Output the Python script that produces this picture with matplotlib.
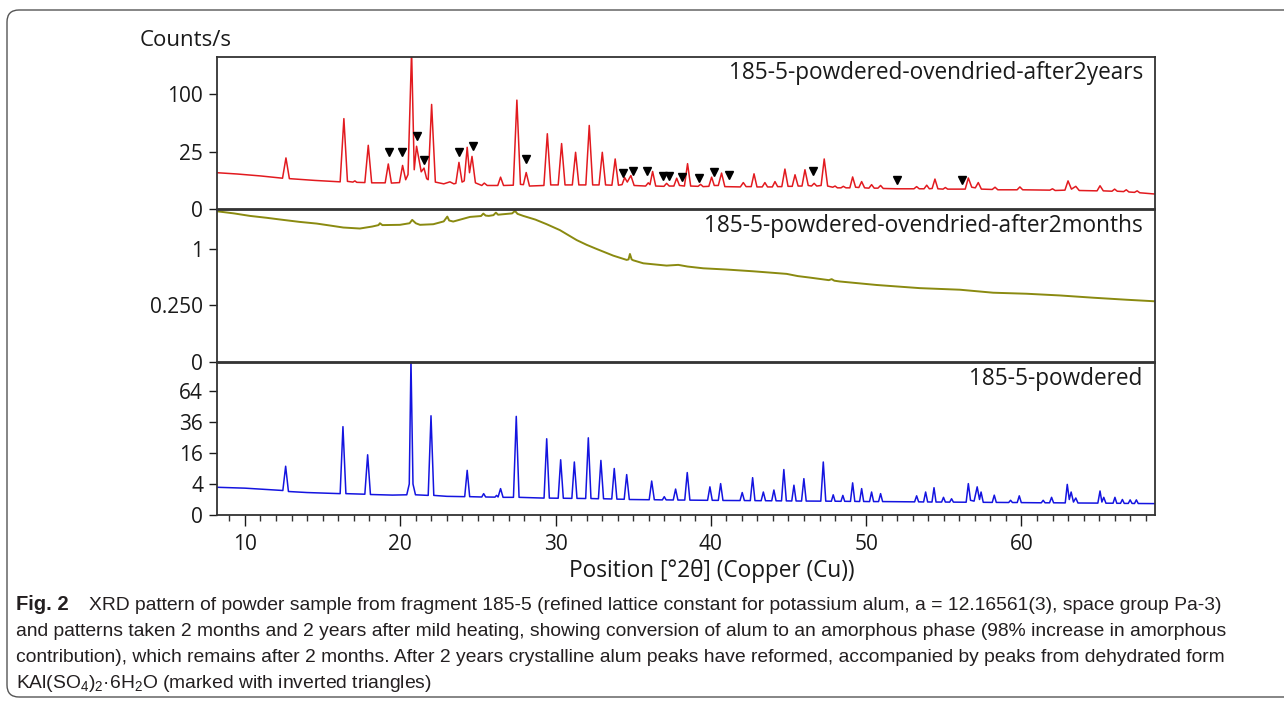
import numpy as np
import matplotlib
matplotlib.use('Agg')
import matplotlib.pyplot as plt
from matplotlib.patches import FancyBboxPatch
from matplotlib.ticker import FixedLocator, MultipleLocator

# --- data (x in deg 2theta, y in counts/s) ---
# 185-5-powdered-ovendried-after2years (red)
red_x = [8.2, 9.5, 11.0,
         12.42, 12.64, 12.86, 14.5,
         16.13, 16.37, 16.6, 16.95, 17.08, 17.2,
         17.72, 17.94, 18.16,
         19.03, 19.23, 19.43,
         19.95, 20.15, 20.35,
         20.5, 20.73, 20.9, 21.05, 21.35, 21.53, 21.7,
         21.8, 22.02, 22.26,
         22.8, 23.2, 23.45,
         23.58, 23.78, 23.98,
         24.12, 24.31, 24.46, 24.62, 24.84,
         25.25, 25.41, 25.6,
         26.28, 26.46, 26.65,
         27.28, 27.51, 27.74,
         27.93, 28.11, 28.32,
         29.25, 29.47, 29.69,
         30.17, 30.39, 30.61,
         31.08, 31.29, 31.5,
         31.95, 32.17, 32.39,
         32.8, 33.01, 33.22,
         33.63, 33.84, 34.05,
         34.28, 34.45, 34.62, 34.85, 35.06,
         35.8, 35.97, 36.08, 36.25, 36.45,
         36.98, 37.15, 37.32,
         37.62, 37.8, 37.98,
         38.3, 38.5, 38.7,
         39.18, 39.34, 39.5,
         39.87, 40.05, 40.22,
         40.48, 40.69, 40.9,
         41.9, 42.09, 42.27,
         42.6, 42.78, 42.97,
         43.31, 43.48, 43.65,
         43.96, 44.13, 44.3,
         44.57, 44.77, 44.97,
         45.24, 45.42, 45.62,
         45.87, 46.06, 46.27,
         46.48, 46.65, 46.82,
         47.1, 47.3, 47.52,
         47.85, 48.0, 48.15,
         48.38, 48.53, 48.7,
         48.95, 49.13, 49.32,
         49.53, 49.71, 49.9,
         50.18, 50.35, 50.52,
         50.76, 50.93, 51.1, 52.0,
         53.08, 53.25, 53.42,
         53.73, 53.9, 54.07,
         54.25, 54.43, 54.62,
         54.95, 55.1, 55.25,
         56.38, 56.58, 56.8, 57.03, 57.22, 57.42,
         58.12, 58.3, 58.48,
         59.72, 59.9, 60.08,
         61.83, 62.0, 62.17,
         62.8, 63.0, 63.22, 63.5, 63.72,
         64.87, 65.06, 65.27,
         65.83, 66.0, 66.17,
         66.58, 66.75, 66.92,
         67.28, 67.45, 67.62, 68.6]
red_y = [10.0, 9.3, 8.3,
         7.2, 19.8, 7.0, 6.2,
         5.6, 62.0, 5.8, 5.5, 6.0, 5.4,
         5.3, 30.8, 5.2,
         5.2, 15.4, 5.1,
         5.3, 14.4, 6.5,
         9.0, 190.0, 11.7, 29.9, 10.5, 12.7, 7.0,
         6.5, 83.0, 5.5,
         4.8, 5.6, 4.8,
         5.0, 16.5, 5.5,
         6.0, 28.9, 10.0, 21.0, 5.2,
         4.2, 5.1, 4.2,
         4.2, 7.7, 4.2,
         4.3, 90.0, 4.6,
         4.5, 10.1, 4.0,
         4.2, 43.0, 4.4,
         4.4, 32.5, 4.4,
         4.4, 24.4, 4.4,
         4.4, 53.0, 4.4,
         4.4, 24.4, 4.4,
         4.3, 19.0, 4.3,
         4.5, 7.5, 5.5, 8.5, 4.2,
         4.0, 5.2, 4.5, 10.7, 4.0,
         3.9, 5.0, 4.0,
         4.0, 7.2, 4.2,
         4.0, 15.6, 4.0,
         3.9, 4.6, 3.8,
         3.9, 7.7, 4.2,
         4.2, 9.8, 3.8,
         3.7, 5.3, 3.8,
         3.8, 9.4, 3.7,
         3.7, 5.3, 3.7,
         3.7, 5.7, 3.8,
         3.8, 12.1, 3.9,
         3.9, 8.9, 4.0,
         4.0, 11.7, 4.2,
         4.0, 5.0, 4.0,
         4.2, 19.0, 4.0,
         3.6, 4.0, 3.4,
         3.4, 3.9, 3.4,
         3.4, 7.8, 3.6,
         3.5, 5.7, 3.4,
         3.3, 4.5, 3.3,
         3.3, 4.2, 3.2, 3.1,
         3.1, 3.8, 3.1,
         3.1, 4.3, 3.1,
         3.2, 6.8, 3.1,
         3.0, 3.5, 3.0,
         3.0, 7.3, 3.6, 3.4, 5.3, 3.0,
         2.9, 3.6, 2.8,
         2.8, 3.7, 2.8,
         2.7, 3.1, 2.6,
         2.7, 6.0, 3.0, 3.9, 2.6,
         2.5, 4.1, 2.5,
         2.4, 3.0, 2.4,
         2.3, 2.8, 2.2,
         2.1, 2.5, 2.0, 1.7]

# dehydrated KAl(SO4)2.6H2O peaks (inverted triangles)
tri_x = [19.27, 20.11, 21.08, 21.53, 23.78, 24.68, 28.09, 34.36, 35.0, 35.87,
         36.94, 37.30, 38.14, 39.25, 40.18, 41.18, 46.59, 52.0, 56.17]
tri_y = [24.5, 24.5, 41.0, 18.5, 24.5, 30.5, 19.0, 9.8, 10.7, 10.7,
         8.4, 8.4, 8.0, 7.2, 10.4, 8.9, 11.1, 6.5, 6.5]

# 185-5-powdered-ovendried-after2months (olive)
green_x = [8.2, 9.3, 10.32, 11.4, 12.47, 13.5, 14.62, 15.5, 16.33, 17.4,
           18.2, 18.6, 18.69, 18.85, 19.98, 20.6, 20.77, 21.0, 21.27, 22.13,
           22.8, 23.03, 23.15, 23.41, 24.49, 25.2, 25.35, 25.5, 25.7, 26.0,
           26.16, 26.3, 26.58, 27.2, 27.39, 27.55, 27.92, 28.7, 29.43, 30.28,
           31.36, 32.0, 32.65, 33.72, 34.58, 34.7, 34.79, 34.9, 35.0, 35.65,
           37.15, 37.9, 38.5, 39.51, 41.02, 42.73, 44.88, 45.6, 46.38, 47.6,
           47.78, 47.95, 48.31, 50.68, 53.46, 56.04, 58.18, 60.33, 62.48, 64.62,
           66.77, 68.6]
green_y = [1.77, 1.72, 1.663, 1.62, 1.573, 1.53, 1.493, 1.45, 1.409, 1.388,
           1.43, 1.46, 1.50, 1.46, 1.466, 1.50, 1.573, 1.50, 1.466, 1.479,
           1.54, 1.647, 1.56, 1.537, 1.640, 1.66, 1.716, 1.67, 1.663, 1.68,
           1.738, 1.69, 1.70, 1.72, 1.778, 1.71, 1.663, 1.58, 1.479, 1.355,
           1.158, 1.07, 0.995, 0.881, 0.812, 0.82, 0.909, 0.82, 0.806, 0.759,
           0.724, 0.735, 0.71, 0.684, 0.666, 0.641, 0.605, 0.575, 0.555, 0.522,
           0.535, 0.515, 0.505, 0.462, 0.425, 0.407, 0.374, 0.363, 0.345, 0.322,
           0.302, 0.287]

# 185-5-powdered (blue)
blue_x = [8.2, 10.0, 12.44, 12.62, 12.8, 14.0,
          16.13, 16.31, 16.5,
          17.72, 17.9, 18.08, 19.5,
          20.42, 20.58, 20.69, 20.82, 20.98,
          21.8, 21.98, 22.16, 23.0,
          24.15, 24.31, 24.47,
          25.25, 25.37, 25.5,
          26.1, 26.2, 26.3, 26.46, 26.62,
          27.29, 27.47, 27.65,
          29.26, 29.43, 29.6,
          30.17, 30.33, 30.5,
          31.05, 31.21, 31.38,
          31.94, 32.11, 32.28,
          32.76, 32.92, 33.09,
          33.62, 33.78, 33.95,
          34.42, 34.58, 34.75,
          36.03, 36.19, 36.36,
          36.88, 37.0, 37.12,
          37.58, 37.73, 37.88,
          38.32, 38.48, 38.65,
          39.79, 39.94, 40.09,
          40.48, 40.63, 40.78,
          41.88, 42.02, 42.16,
          42.54, 42.69, 42.84,
          43.24, 43.38, 43.52,
          43.92, 44.06, 44.2,
          44.55, 44.7, 44.86,
          45.21, 45.35, 45.49,
          45.84, 45.99, 46.14,
          47.08, 47.24, 47.4,
          47.76, 47.88, 48.0,
          48.38, 48.5, 48.62,
          48.99, 49.13, 49.27,
          49.58, 49.71, 49.84,
          50.22, 50.35, 50.48,
          50.8, 50.93, 51.06,
          53.12, 53.25, 53.38,
          53.7, 53.83, 53.96,
          54.24, 54.37, 54.5,
          54.86, 54.98, 55.1,
          55.38, 55.5, 55.62,
          56.44, 56.58, 56.72, 56.95, 57.15, 57.3, 57.4, 57.54,
          58.12, 58.25, 58.38,
          59.18, 59.3, 59.42,
          59.73, 59.86, 59.99,
          61.28, 61.4, 61.52,
          61.81, 61.94, 62.07,
          62.82, 62.95, 63.08, 63.2, 63.35, 63.5, 63.64,
          64.92, 65.06, 65.18, 65.3, 65.44,
          65.9, 66.02, 66.14,
          66.38, 66.5, 66.62,
          66.88, 67.0, 67.12,
          67.28, 67.4, 67.52, 68.6]
blue_y = [3.2, 3.0, 2.5, 9.9, 2.3, 2.1,
          1.9, 32.5, 1.9,
          1.8, 15.1, 1.75, 1.65,
          1.7, 4.0, 100.0, 4.0, 1.7,
          1.6, 41.0, 1.6, 1.45,
          1.4, 8.3, 1.4,
          1.35, 1.9, 1.35,
          1.33, 1.6, 1.35, 2.9, 1.3,
          1.3, 40.5, 1.3,
          1.19, 24.2, 1.19,
          1.17, 12.7, 1.17,
          1.15, 11.7, 1.15,
          1.13, 24.8, 1.13,
          1.1, 12.4, 1.1,
          1.07, 9.0, 1.05,
          1.03, 6.8, 1.0,
          0.97, 4.8, 0.97,
          0.95, 1.4, 0.95,
          0.94, 2.8, 0.93,
          0.93, 7.5, 0.92,
          0.9, 3.3, 0.9,
          0.89, 4.1, 0.88,
          0.87, 2.1, 0.87,
          0.86, 5.8, 0.86,
          0.85, 2.2, 0.85,
          0.84, 2.6, 0.84,
          0.83, 8.6, 0.83,
          0.82, 3.7, 0.82,
          0.81, 5.5, 0.81,
          0.8, 11.7, 0.8,
          0.79, 1.7, 0.79,
          0.78, 1.6, 0.78,
          0.77, 4.3, 0.77,
          0.76, 2.9, 0.76,
          0.75, 2.2, 0.75,
          0.75, 1.9, 0.75,
          0.72, 1.53, 0.72,
          0.71, 2.2, 0.71,
          0.7, 3.1, 0.7,
          0.7, 1.3, 0.7,
          0.69, 1.1, 0.69,
          0.68, 4.1, 0.9, 0.8, 3.3, 1.0, 2.2, 0.67,
          0.66, 1.64, 0.66,
          0.65, 0.9, 0.65,
          0.65, 1.53, 0.64,
          0.62, 0.9, 0.62,
          0.62, 1.3, 0.62,
          0.61, 3.9, 1.0, 2.2, 0.7, 1.2, 0.6,
          0.59, 2.4, 0.7, 1.3, 0.58,
          0.58, 1.3, 0.57,
          0.57, 1.0, 0.56,
          0.56, 0.95, 0.56,
          0.55, 0.95, 0.55, 0.54]

labels = ['185-5-powdered-ovendried-after2years',
          '185-5-powdered-ovendried-after2months',
          '185-5-powdered']
ytick_vals = [[0, 25, 100], [0, 0.25, 1], [0, 4, 16, 36, 64]]
ytick_txt = [['0', '25', '100'], ['0', '0.250', '1'], ['0', '4', '16', '36', '64']]
ytop = [175.4, 1.80, 96.2]

plt.rcParams['font.family'] = ['Open Sans', 'DejaVu Sans']
plt.rcParams['mathtext.fontset'] = 'custom'
plt.rcParams['mathtext.rm'] = 'Liberation Sans'
plt.rcParams['mathtext.it'] = 'Liberation Sans'
txt_col = '#1a1a1a'

fig = plt.figure(figsize=(12.84, 7.03), dpi=100)


def fwd(v):
    return np.sqrt(np.clip(v, 0, None))


def inv(v):
    return np.square(v)


left, width = 217 / 1284, 938 / 1284
bottoms = [1 - 209 / 703, 1 - 362 / 703, 1 - 515 / 703]
h = 152 / 703

series = [(red_x, red_y, '#e21a1f', 1.1), (green_x, green_y, '#8a8a10', 1.4),
          (blue_x, blue_y, '#1414e0', 1.1)]
axs = []
for i in range(3):
    ax = fig.add_axes([left, bottoms[i], width, h])
    xs, ys, c, lw = series[i]
    ax.plot(xs, ys, color=c, lw=lw)
    ax.set_yscale('function', functions=(fwd, inv))
    ax.set_xlim(8.2, 68.6)
    ax.set_ylim(0, ytop[i])
    ax.yaxis.set_major_locator(FixedLocator(ytick_vals[i]))
    ax.set_yticklabels(ytick_txt[i])
    ax.yaxis.set_minor_locator(FixedLocator([]))
    ax.tick_params(axis='y', direction='out', length=6, width=1, labelsize=15,
                   colors=txt_col, pad=4)
    for s in ax.spines.values():
        s.set_color('#333333')
        s.set_linewidth(1.3)
    ax.text(0.987, 0.895, labels[i], transform=ax.transAxes, ha='right', va='center',
            fontsize=16.3, color=txt_col)
    axs.append(ax)

# inverted triangles on the 2-year pattern
axs[0].plot(tri_x, tri_y, linestyle='none', marker='v', color='black', markersize=6)

for ax in axs[:2]:
    ax.tick_params(axis='x', bottom=False, labelbottom=False)

axb = axs[2]
axb.xaxis.set_major_locator(FixedLocator([10, 20, 30, 40, 50, 60]))
axb.xaxis.set_minor_locator(MultipleLocator(1))
axb.tick_params(axis='x', which='major', direction='out', length=8, width=1,
                labelsize=15, colors=txt_col, pad=6)
axb.tick_params(axis='x', which='minor', direction='out', length=4, width=1, colors='#333333')

fig.text(712 / 1284, 1 - 571 / 703, 'Position [°2θ] (Copper (Cu))', ha='center', va='center',
         fontsize=16.3, color=txt_col)
fig.text(140 / 1284, 1 - 40 / 703, 'Counts/s', ha='left', va='center', fontsize=16,
         color=txt_col)

# caption
cap_font = ['Liberation Sans', 'DejaVu Sans']
cap_lines = [
    'XRD pattern of powder sample from fragment 185-5 (refined lattice constant for potassium alum, a = 12.16561(3), space group Pa-3)',
    'and patterns taken 2 months and 2 years after mild heating, showing conversion of alum to an amorphous phase (98% increase in amorphous',
    'contribution), which remains after 2 months. After 2 years crystalline alum peaks have reformed, accompanied by peaks from dehydrated form',
    'KAl(SO$_4$)$_2$·6H$_2$O (marked with inverted triangles)',
]
cap_y = [605, 631, 657, 683]
fig.text(16 / 1284, 1 - cap_y[0] / 703, 'Fig. 2', ha='left', va='center', fontsize=14.5,
         fontweight='bold', family=cap_font, color='#231f20')
for k, line in enumerate(cap_lines):
    x0 = 89 / 1284 if k == 0 else 16 / 1284
    fig.text(x0, 1 - cap_y[k] / 703, line, ha='left', va='center', fontsize=13.9,
             family=cap_font, color='#231f20')

# rounded frame around the figure
frame = FancyBboxPatch((7, 703 - 697), 1300, 697 - 10, boxstyle='round,pad=0,rounding_size=12',
                       transform=None, fill=False, edgecolor='#555555', linewidth=1.0)
fig.add_artist(frame)

fig.savefig('out.png', dpi=100)
